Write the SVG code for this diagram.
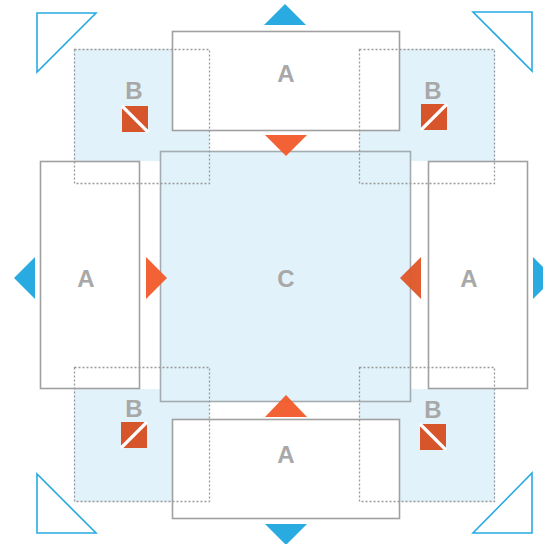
<svg xmlns="http://www.w3.org/2000/svg" width="543" height="544" viewBox="0 0 543 544">
<defs>
<style>
.bfill{fill:#e1f2fa;stroke:none}
.dot{fill:none;stroke:#999;stroke-width:1.3;stroke-dasharray:2 2}
.abox{fill:#fff;stroke:#a0a0a0;stroke-width:1.6}
.cbox{fill:#e1f2fa;stroke:#a3acb0;stroke-width:1.6}
.lbl{font-family:"Liberation Sans",Arial,sans-serif;font-weight:bold;font-size:24px;fill:#a8a8a8;text-anchor:middle}
.org{fill:#f15a29;opacity:0.95}
.icon{fill:#d6552a}
.cut{stroke:#fff;stroke-width:3.2}
.blue{fill:#29abe2}
.corner{fill:none;stroke:#29abe2;stroke-width:1.6}
</style>
</defs>
<rect width="543" height="544" fill="#fff"/>
<g id="B-fills">
<rect class="bfill" x="74" y="49" width="135" height="112"/>
<rect class="bfill" x="359" y="49" width="136" height="112"/>
<rect class="bfill" x="74" y="389" width="135" height="113"/>
<rect class="bfill" x="359" y="389" width="136" height="113"/>
</g>
<g id="C">
<rect class="cbox" x="160.5" y="151.5" width="250" height="250"/>
<text class="lbl" x="286" y="287">C</text>
</g>
<g id="A-top">
<rect class="abox" x="172.5" y="31.5" width="227" height="99"/>
<text class="lbl" x="286" y="82">A</text>
</g>
<g id="A-left">
<rect class="abox" x="40.5" y="161.5" width="99" height="227"/>
<text class="lbl" x="86" y="287">A</text>
</g>
<g id="A-right">
<rect class="abox" x="428.5" y="161.5" width="99" height="227"/>
<text class="lbl" x="469" y="287">A</text>
</g>
<g id="A-bottom">
<rect class="abox" x="172.5" y="419.5" width="227" height="99"/>
<text class="lbl" x="286" y="463">A</text>
</g>
<g id="B-top-left">
<rect class="dot" x="74.5" y="49.5" width="135" height="134"/>
<text class="lbl" x="134" y="99">B</text>
<rect class="icon" x="122" y="106" width="26" height="26"/>
<line class="cut" x1="122" y1="106" x2="148" y2="132"/>
</g>
<g id="B-top-right">
<rect class="dot" x="359.5" y="49.5" width="135" height="134"/>
<text class="lbl" x="433" y="99">B</text>
<rect class="icon" x="421" y="104" width="26" height="26"/>
<line class="cut" x1="447" y1="104" x2="421" y2="130"/>
</g>
<g id="B-bottom-left">
<rect class="dot" x="74.5" y="367.5" width="135" height="134"/>
<text class="lbl" x="134" y="417">B</text>
<rect class="icon" x="121" y="422" width="26" height="26"/>
<line class="cut" x1="121" y1="448" x2="147" y2="422"/>
</g>
<g id="B-bottom-right">
<rect class="dot" x="359.5" y="367.5" width="135" height="134"/>
<text class="lbl" x="433" y="418">B</text>
<rect class="icon" x="420" y="424" width="26" height="26"/>
<line class="cut" x1="420" y1="424" x2="446" y2="450"/>
</g>
<g id="connectors">
<polygon class="org" points="265,135 307,135 286,156"/>
<polygon class="org" points="146,257 146,299 167,278"/>
<polygon class="org" points="421,257 421,299 400,278" style="fill:#de5527"/>
<polygon class="org" points="265,417 307,417 286,395"/>
<polygon class="blue" points="264,25 306,25 285,4"/>
<polygon class="blue" points="265,524 307,524 286,545"/>
<polygon class="blue" points="35,257 35,299 14,278"/>
<polygon class="blue" points="533,257 533,299 554,278"/>
<polygon class="corner" points="37,13 96,13 37,72"/>
<polygon class="corner" points="473,12 532,12 532,71"/>
<polygon class="corner" points="37,474 37,533 96,533"/>
<polygon class="corner" points="532,473 532,533 473,533"/>
</g>
</svg>
